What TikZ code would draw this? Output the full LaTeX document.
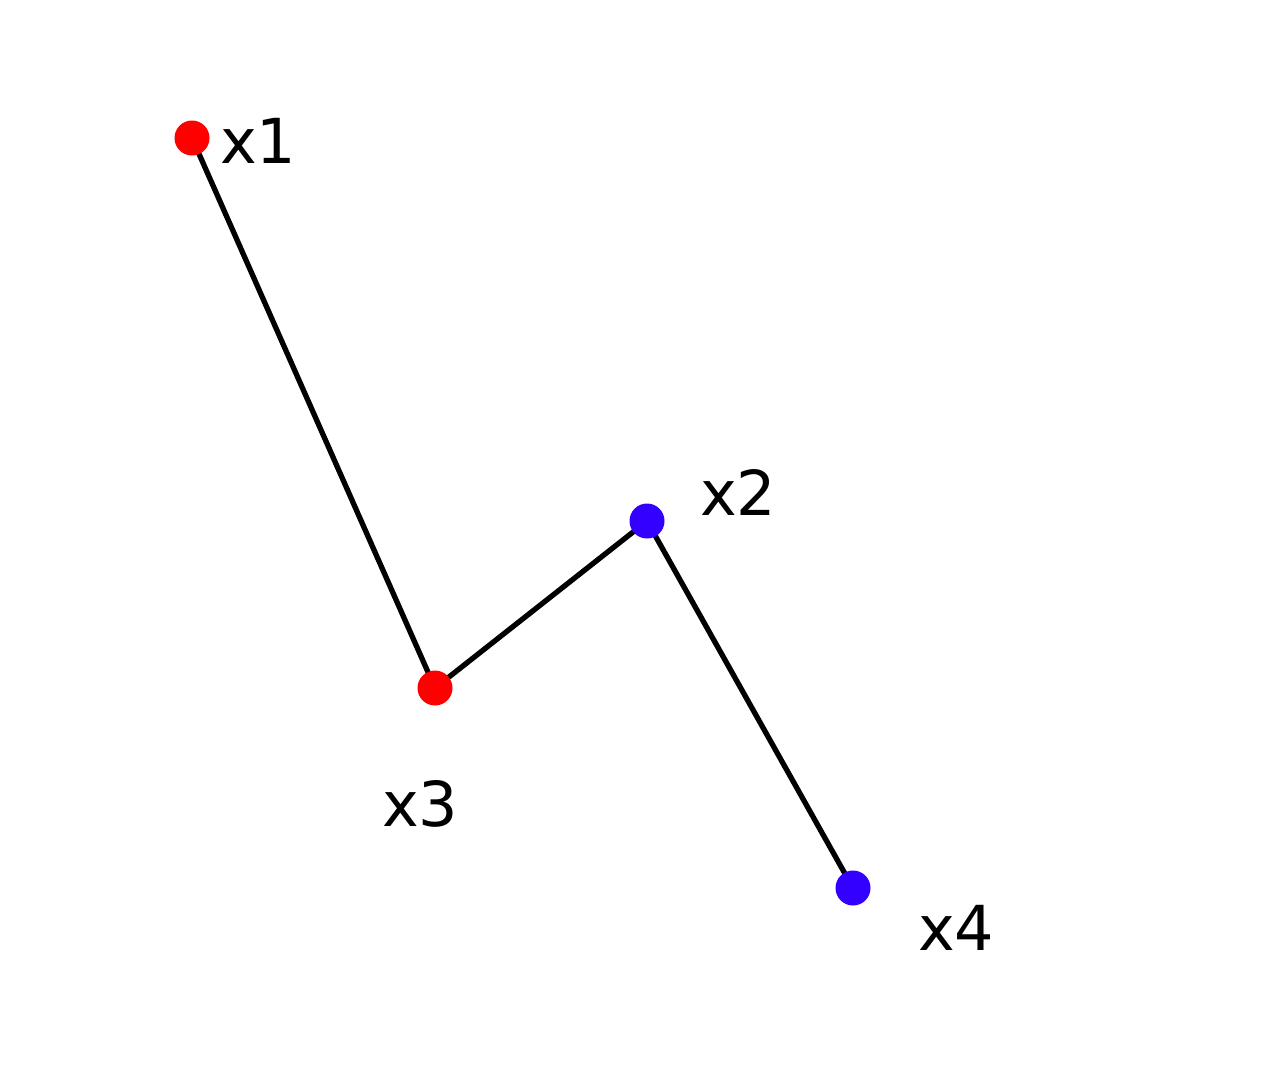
\documentclass[tikz,border=0pt]{standalone}
\usepackage{fontspec}
\setmainfont{DejaVu Sans}
\definecolor{dotred}{RGB}{255,0,0}
\definecolor{dotblue}{RGB}{51,0,255}
\begin{document}
\begin{tikzpicture}[x=1pt,y=-1pt,
  dot/.style={circle,fill=#1,draw=none,minimum size=35pt,inner sep=0pt},
  edge/.style={line width=5.3pt,black},
  lab/.style={anchor=base west,inner sep=0pt,font=\fontsize{62}{74}\selectfont}]
\useasboundingbox (0,0) rectangle (1268,1080);
\coordinate (p1) at (192,138);
\coordinate (p2) at (647,521);
\coordinate (p3) at (435,688);
\coordinate (p4) at (853,888);
\draw[edge] (p1) -- (p3) -- (p2) -- (p4);
\node[dot=dotred] (n1) at (p1) {};
\node[dot=dotblue] (n2) at (p2) {};
\node[dot=dotred] (n3) at (p3) {};
\node[dot=dotblue] (n4) at (p4) {};
\node[lab] (l1) at (220,163) {x1};
\node[lab] (l2) at (700,515) {x2};
\node[lab] (l3) at (382,826) {x3};
\node[lab] (l4) at (918,950) {x4};
\end{tikzpicture}
\end{document}
